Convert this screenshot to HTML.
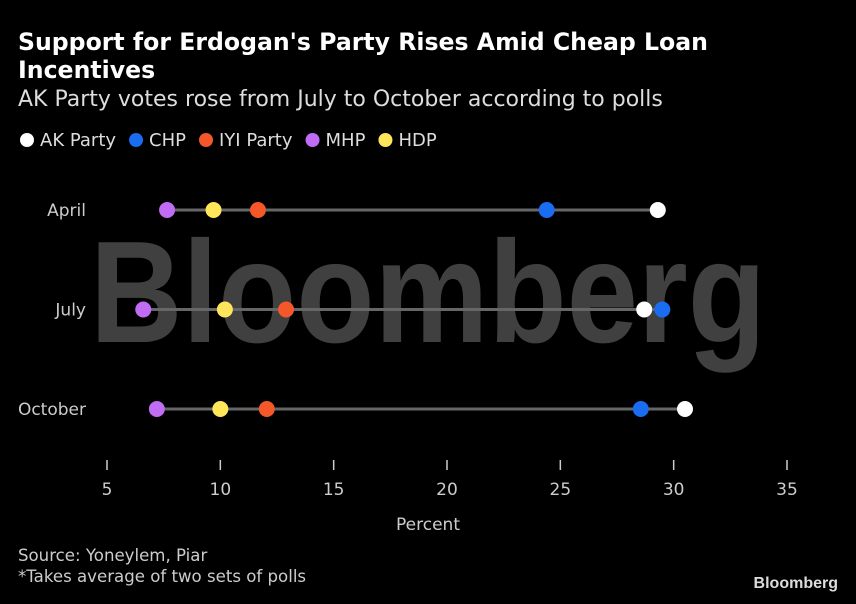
<!DOCTYPE html>
<html><head><meta charset="utf-8"><style>
body{margin:0;background:#000;width:856px;height:600px;overflow:hidden;font-family:"DejaVu Sans","Liberation Sans",sans-serif;color:#fff}
svg text{font-family:"DejaVu Sans","Liberation Sans",sans-serif}
</style></head><body>
<svg width="856" height="600" xmlns="http://www.w3.org/2000/svg">
<text x="18" y="50" font-size="23.6" font-weight="bold" fill="#fff">Support for Erdogan's Party Rises Amid Cheap Loan</text>
<text x="18" y="78" font-size="23.6" font-weight="bold" fill="#fff">Incentives</text>
<text x="18" y="106" font-size="22" fill="#ddd">AK Party votes rose from July to October according to polls</text>
<text x="90" y="342" font-size="145" font-weight="bold" fill="#555" fill-opacity="0.75" textLength="676" lengthAdjust="spacingAndGlyphs" style="font-family:'Liberation Sans',sans-serif">Bloomberg</text>
<g id="legend"></g>
<g id="plot"></g>
<text x="428" y="530" font-size="17" fill="#ccc" text-anchor="middle">Percent</text>
<text x="18" y="561" font-size="16.6" fill="#ccc">Source: Yoneylem, Piar</text>
<text x="18" y="582" font-size="16.6" fill="#ccc">*Takes average of two sets of polls</text>
<text x="838" y="588" font-size="16" font-weight="bold" fill="#ddd" text-anchor="end" style="font-family:'Liberation Sans',sans-serif">Bloomberg</text>
</svg>
<script>
const categories=["April","July","October"];
const seriesNames=["AK Party","CHP","IYI Party","MHP","HDP"];
const seriesColors=["#ffffff","#1a6cf0","#f4572a","#c06cf5","#ffe55a"];
const akParty=[29.3,28.7,30.5];
const chp=[24.4,29.5,28.55];
const iyi=[11.66,12.9,12.05];
const mhp=[7.65,6.6,7.2];
const hdp=[9.7,10.2,10.0];
const ticks=[5,10,15,20,25,30,35];
const NS="http://www.w3.org/2000/svg";
const xs=v=>107+(v-5)*(680/30);
const ys=i=>210+i*99.5;
function mk(t,a,p){const e=document.createElementNS(NS,t);for(const k in a)e.setAttribute(k,a[k]);p.appendChild(e);return e;}
const plot=document.getElementById('plot'),leg=document.getElementById('legend');
const all=[akParty,chp,iyi,mhp,hdp];
let lx=20;
seriesNames.forEach((n,i)=>{
 const g=mk('g',{},leg);
 
 
 mk('circle',{cx:lx+7,cy:140,r:7,fill:seriesColors[i]},g);
 const t=mk('text',{x:lx+20,y:146,'font-size':18,fill:'#ddd'},g);t.textContent=n;
 lx+=20+t.getComputedTextLength()+13;
});
ticks.forEach(v=>{
 const l=mk('line',{x1:xs(v),x2:xs(v),y1:460,y2:470,stroke:'#ccc','stroke-width':1.5},plot);
 
 
 const t=mk('text',{x:xs(v),y:495,'font-size':17,fill:'#ccc','text-anchor':'middle'},plot);
 
 
 t.textContent=v;
});
categories.forEach((c,i)=>{
 const y=ys(i);
 const t=mk('text',{x:86,y:y+6,'font-size':17,fill:'#ccc','text-anchor':'end'},plot);
 
 
 t.textContent=c;
 const vals=all.map(s=>s[i]);
 const ln=mk('line',{x1:xs(Math.min(...vals)),x2:xs(Math.max(...vals)),y1:y,y2:y,stroke:'#666','stroke-width':3},plot);
 
 
 [3,4,2,1,0].forEach(s=>{
  const d=mk('circle',{cx:xs(all[s][i]),cy:y,r:8,fill:seriesColors[s]},plot);
  
  
 });
});
</script>
</body></html>
